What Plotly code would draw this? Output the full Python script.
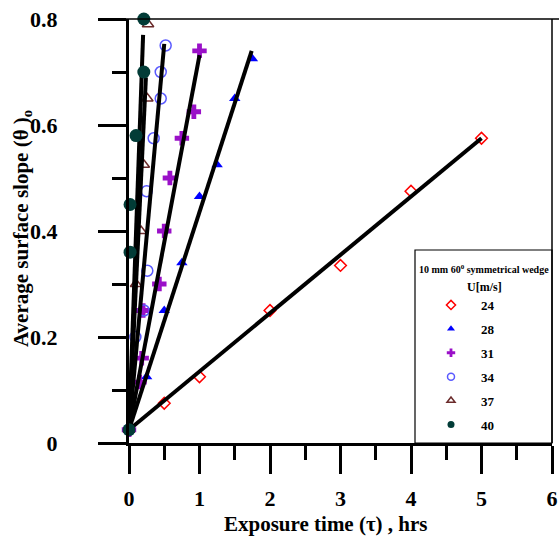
import plotly.graph_objects as go

# ---- data ----
speeds = ["24", "28", "31", "34", "37", "40"]

t_24 = [0, 0.5, 1, 2, 3, 4, 5]
s_24 = [0.025, 0.075, 0.125, 0.25, 0.335, 0.475, 0.575]

t_28 = [0, 0.25, 0.5, 0.75, 1.0, 1.25, 1.5, 1.75]
s_28 = [0.025, 0.125, 0.25, 0.34, 0.465, 0.525, 0.65, 0.725]

t_31 = [0, 0.15, 0.18, 0.2, 0.43, 0.5, 0.58, 0.75, 0.92, 1.0]
s_31 = [0.025, 0.115, 0.16, 0.25, 0.30, 0.40, 0.50, 0.575, 0.625, 0.74]

t_34 = [0, 0.09, 0.21, 0.26, 0.25, 0.35, 0.45, 0.45, 0.52]
s_34 = [0.025, 0.2, 0.25, 0.325, 0.475, 0.575, 0.65, 0.70, 0.75]

t_37 = [0, 0.1, 0.17, 0.21, 0.26, 0.27]
s_37 = [0.025, 0.30, 0.40, 0.525, 0.65, 0.79]

t_40 = [0, 0.015, 0.015, 0.1, 0.21, 0.21]
s_40 = [0.025, 0.36, 0.45, 0.58, 0.70, 0.80]

# fitted straight lines (start and end points)
fit_t = {"24": [0, 5.0], "28": [0, 1.74], "31": [0, 1.0], "34": [0, 0.5],
         "37": [0, 0.24], "40": [0, 0.2]}
fit_s = {"24": [0.025, 0.575], "28": [0.025, 0.74], "31": [0.025, 0.732],
         "34": [0.025, 0.753], "37": [0.025, 0.69], "40": [0.025, 0.77]}

x_ticks = [0, 1, 2, 3, 4, 5, 6]
y_ticks = [0, 0.2, 0.4, 0.6, 0.8]
y_tick_labels = ["0", "0.2", "0.4", "0.6", "0.8"]

series = {
    "24": (t_24, s_24, "diamond-open", "#FF0000", 9),
    "28": (t_28, s_28, "triangle-up", "#0000FF", 10),
    "31": (t_31, s_31, "cross", "#9A10C8", 12),
    "34": (t_34, s_34, "circle-open", "#5A5AFF", 11),
    "37": (t_37, s_37, "triangle-up-open", "#6B2B2B", 10),
    "40": (t_40, s_40, "circle", "#023C37", 13),
}

FONT = "Liberation Serif"
fig = go.Figure()

def add_markers(k):
    t, s, sym, col, sz = series[k]
    fig.add_trace(go.Scatter(
        x=t, y=s, mode="markers", showlegend=False, cliponaxis=False,
        marker=dict(symbol=sym, color=col, size=sz,
                    line=dict(color=col, width=1.5 if "open" in sym else 0))))

for k in speeds[:-1]:
    add_markers(k)

for k in speeds:
    fig.add_trace(go.Scatter(x=fit_t[k], y=fit_s[k], mode="lines",
                             line=dict(color="black", width=4),
                             showlegend=False, cliponaxis=False))

add_markers("40")

# legend entries
for k in speeds:
    _, _, sym, col, _ = series[k]
    fig.add_trace(go.Scatter(
        x=[None], y=[None], mode="markers", name=k, legendgroup=k,
        marker=dict(symbol=sym, color=col, size=7,
                    line=dict(color=col, width=1.5 if "open" in sym else 0))))

fig.update_layout(
    width=559, height=542,
    margin=dict(l=129, r=7, t=19, b=99, autoexpand=False),
    paper_bgcolor="white", plot_bgcolor="white",
    font=dict(family=FONT, color="black", weight="bold"),
    showlegend=True,
    legend=dict(
        x=(421 - 129) / 423, y=(443 - 290) / 424, xanchor="left", yanchor="top",
        bgcolor="rgba(0,0,0,0)", borderwidth=0,
        font=dict(family=FONT, size=13, weight="bold"),
        tracegroupgap=4, itemwidth=50,
    ),
    xaxis=dict(
        range=[0, 6], tickvals=x_ticks, ticktext=[str(v) for v in x_ticks],
        showgrid=False, zeroline=False, automargin=False,
        showline=True, linecolor="black", linewidth=3,
        ticks="outside", ticklen=28, tickwidth=3, tickcolor="black",
        minor=dict(dtick=0.5, ticks="outside", ticklen=14, tickwidth=3,
                   tickcolor="black", showgrid=False),
        tickfont=dict(family=FONT, size=22, weight="bold"),
        ticklabelstandoff=6,
    ),
    yaxis=dict(
        range=[0, 0.8], tickvals=y_ticks, ticktext=y_tick_labels,
        showgrid=False, zeroline=False, automargin=False,
        showline=True, linecolor="black", linewidth=3,
        ticks="outside", ticklen=28, tickwidth=3, tickcolor="black",
        minor=dict(dtick=0.1, ticks="outside", ticklen=14, tickwidth=3,
                   tickcolor="black", showgrid=False),
        tickfont=dict(family=FONT, size=22, weight="bold"),
        ticklabelstandoff=36,
    ),
    annotations=[
        dict(text="Average surface slope (θ )<sub>o</sub>", xref="paper",
             yref="paper", x=(22 - 129) / 423, y=(443 - 229) / 424,
             xanchor="center", yanchor="middle", textangle=-90,
             showarrow=False, font=dict(family=FONT, size=21, weight="bold")),
        dict(text="Exposure time (τ) , hrs", xref="paper", yref="paper",
             x=(326 - 129) / 423, y=(443 - 524) / 424, xanchor="center",
             yanchor="middle", showarrow=False,
             font=dict(family=FONT, size=21, weight="bold")),
        dict(text="10 mm 60<sup>0</sup> symmetrical wedge", xref="paper",
             yref="paper", x=(484 - 129) / 423, y=(443 - 269) / 424,
             xanchor="center", yanchor="middle", showarrow=False,
             font=dict(family=FONT, size=10, weight="bold")),
        dict(text="U[m/s]", xref="paper", yref="paper",
             x=(484 - 129) / 423, y=(443 - 287) / 424,
             xanchor="center", yanchor="middle", showarrow=False,
             font=dict(family=FONT, size=12, weight="bold")),
    ],
    shapes=[
        dict(type="line", xref="paper", yref="paper", x0=-0.068, x1=1.02,
             y0=1, y1=1, line=dict(color="black", width=1.5)),
        dict(type="line", xref="paper", yref="paper", x0=1, x1=1,
             y0=0, y1=1, line=dict(color="black", width=1.5)),
        dict(type="rect", xref="paper", yref="paper",
             x0=(415 - 129) / 423, x1=1.0, y0=0, y1=(443 - 250) / 424,
             line=dict(color="black", width=1.2)),
    ],
)

fig.write_html("out.html")
